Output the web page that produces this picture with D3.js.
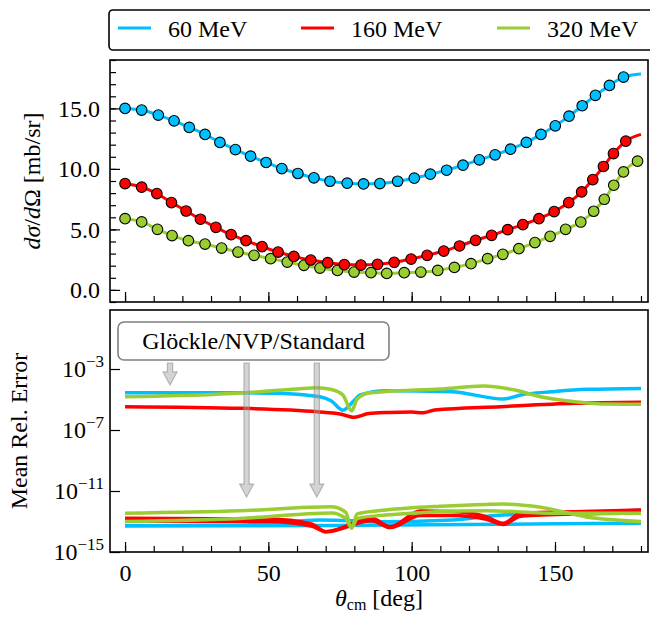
<!DOCTYPE html>
<html>
<head>
<meta charset="utf-8">
<script src="https://cdn.jsdelivr.net/npm/d3@7"></script>
<style>
  body { margin: 0; background: #fff; }
  svg text { font-family: "Liberation Serif", "DejaVu Serif", serif; fill: #000; }
</style>
</head>
<body>
<svg id="chart" width="650" height="618"></svg>
<script>
// ---- data ----
const energies = ["60 MeV", "160 MeV", "320 MeV"];
const colors = ["#00bfff", "#ff0000", "#9acd32"];

// cross sections (top panel); last entry is the curve end at 180 deg (no marker)
const angles60 = [0,5.8,11.6,17.1,22.4,27.9,33.1,38.5,43.8,49.2,54.7,60.3,65.9,71.5,77.5,83.2,88.9,95.1,100.9,106.5,112.2,117.9,123.6,129.1,134.5,140.0,145.1,150.1,154.9,159.5,164.1,169.0,173.9,180];
const sigma60  = [15.0,14.86,14.45,13.97,13.43,12.85,12.19,11.6,11.05,10.53,10.03,9.62,9.26,8.98,8.82,8.76,8.79,8.98,9.23,9.56,9.89,10.31,10.75,11.16,11.63,12.19,12.85,13.56,14.36,15.22,16.08,16.9,17.59,17.85];
const angles160 = [0,5.8,11.1,16.2,21.3,26.3,31.7,37.0,42.2,47.8,53.4,58.9,64.8,70.7,76.5,82.3,88.1,93.9,99.8,105.4,111.2,116.7,122.3,127.9,133.5,138.8,144.4,149.7,154.8,159.3,163.2,166.9,170.4,174.7,180];
const sigma160  = [8.79,8.49,7.96,7.22,6.52,5.84,5.17,4.57,4.07,3.58,3.13,2.77,2.47,2.25,2.09,2.05,2.11,2.28,2.55,2.86,3.21,3.63,4.10,4.51,4.98,5.40,5.89,6.47,7.22,8.10,9.12,10.20,11.27,12.29,12.85];
const angles320 = [0,5.8,11.3,16.4,22.1,27.9,33.7,39.4,45.0,50.8,56.6,62.4,68.0,74.1,79.9,85.8,91.3,97.4,103.2,109.1,114.9,120.7,126.5,131.8,137.4,143.0,148.3,153.7,159.0,163.5,167.2,170.5,173.9,178.8,180];
const sigma320  = [5.89,5.62,5.01,4.49,4.07,3.79,3.46,3.13,2.86,2.58,2.30,2.03,1.80,1.61,1.47,1.42,1.36,1.42,1.47,1.61,1.86,2.17,2.58,2.94,3.41,3.91,4.43,5.01,5.61,6.50,7.49,8.65,9.75,10.64,10.75];

// mean relative errors (bottom panel), log10 of value
const glAngles60 = [0,20,41,55,68,72,76,80,82,91,114,132,138,149,161,180];
const glExp60    = [-4.55,-4.55,-4.56,-4.6,-4.82,-5.1,-5.7,-5.05,-4.7,-4.42,-4.49,-4.97,-4.7,-4.49,-4.33,-4.27];
const glAngles160 = [0,41,67,75,80,85,92,100,104,108,131,157,180];
const glExp160    = [-5.47,-5.58,-5.8,-5.95,-6.17,-5.92,-5.85,-5.82,-5.87,-5.69,-5.47,-5.25,-5.18];
const glAngles320 = [0,41,60,67,72,76,79,81,85,91,110,125,136,145,157,168.5,180];
const glExp320    = [-4.82,-4.57,-4.31,-4.23,-4.34,-4.7,-5.75,-4.97,-4.57,-4.48,-4.31,-4.11,-4.38,-4.82,-5.14,-5.3,-5.31];

const nvpAngles60 = [0,40,68,91,114,132,150,180];
const nvpExp60    = [-13.28,-13.25,-12.9,-13.01,-12.9,-12.57,-12.5,-12.25];
const stdAngles60 = [0,40,80,120,150,180];
const stdExp60    = [-13.28,-13.28,-13.25,-13.2,-13.15,-13.12];
const nvpAngles160 = [0,50,65,70,86,92.5,103,114,126,132,138,160,180];
const nvpExp160    = [-12.79,-12.84,-13.16,-13.67,-12.79,-13.34,-12.31,-12.35,-12.69,-13.12,-12.46,-12.35,-12.25];
const stdAngles160 = [0,50,65,70,86,92.5,103,114,126,132,138,160,180];
const stdExp160    = [-12.97,-13.0,-13.3,-13.67,-12.95,-13.4,-12.6,-12.6,-12.85,-13.2,-12.65,-12.5,-12.45];
const nvpAngles320 = [0,40,72,77,79,81,91,110,126,132,145,161,180];
const nvpExp320    = [-12.46,-12.3,-12.03,-12.4,-13.43,-12.5,-12.25,-12.0,-11.88,-11.86,-12.06,-12.7,-13.0];
const stdAngles320 = [0,40,72,77,79,81,91,126,150,180];
const stdExp320    = [-13.0,-12.8,-12.44,-12.8,-13.43,-12.8,-12.57,-12.29,-12.46,-12.46];

// annotation arrows: target angle and value
const arrowAngles = [15.7, 42.4, 66.9];
const arrowTargets = [9e-5, 4e-12, 4e-12];

const xMajor = [0, 50, 100, 150];
const xMinor = d3.range(0, 181, 10);
const yMajorTop = [0, 5, 10, 15];
const yMinorTop = d3.range(-1, 20, 1);
const yMajorBottom = [1e-15, 1e-11, 1e-7, 1e-3];

// ---- layout ----
const svg = d3.select("#chart");
const left = 110, right = 648;
const top1 = 60, bottom1 = 302;
const top2 = 310, bottom2 = 552;
const fontSize = 24;

const x = d3.scaleLinear().domain([-5.25, 182.45]).range([left, right]);
const yTop = d3.scaleLinear().domain([-1, 19]).range([bottom1, top1]);
const yBot = d3.scaleLog().domain([1e-15, Math.pow(10, 0.87)]).range([bottom2, top2]);

const makeSeries = (a, v) => a.map((d, i) => ({ a: d, v: v[i] }));

// ---- legend ----
svg.append("rect")
  .attr("x", 109).attr("y", 10).attr("width", 545).attr("height", 40)
  .attr("rx", 4)
  .attr("fill", "#fff").attr("stroke", "#000").attr("stroke-width", 1.6);

const legendX = [118, 301, 497];
energies.forEach((e, i) => {
  svg.append("line")
    .attr("x1", legendX[i]).attr("x2", legendX[i] + 33)
    .attr("y1", 28).attr("y2", 28)
    .attr("stroke", colors[i]).attr("stroke-width", 3);
  svg.append("text")
    .attr("x", legendX[i] + 50).attr("y", 37)
    .attr("font-size", fontSize)
    .text(e);
});

// ---- top panel ----
const topG = svg.append("g");

const line = d3.line()
  .x(d => x(d.a))
  .y(d => yTop(d.v))
  .curve(d3.curveMonotoneX);

const topSeries = [
  makeSeries(angles60, sigma60),
  makeSeries(angles160, sigma160),
  makeSeries(angles320, sigma320)
];

topSeries.forEach((s, i) => {
  topG.append("path")
    .datum(s)
    .attr("d", line)
    .attr("fill", "none")
    .attr("stroke", colors[i])
    .attr("stroke-width", 3);
});
// markers drawn after all lines so that they sit on top
[2, 1, 0].forEach(i => {
  topG.selectAll(".m" + i)
    .data(topSeries[i].filter(d => d.a < 179.5))
    .join("circle")
    .attr("class", "m" + i)
    .attr("cx", d => x(d.a))
    .attr("cy", d => yTop(d.v))
    .attr("r", 5.3)
    .attr("fill", colors[i])
    .attr("stroke", "#000")
    .attr("stroke-width", 1.1);
});

// top axes
const axTop = svg.append("g");
axTop.append("g")
  .attr("transform", `translate(${left},0)`)
  .call(d3.axisLeft(yTop).tickValues(yMinorTop).tickSize(-6).tickFormat(""));
axTop.append("g")
  .attr("transform", `translate(${left},0)`)
  .call(d3.axisLeft(yTop).tickValues(yMajorTop).tickSize(-10).tickPadding(10).tickFormat(d3.format(".1f")));
axTop.append("g")
  .attr("transform", `translate(0,${bottom1})`)
  .call(d3.axisBottom(x).tickValues(xMinor).tickSize(-6).tickFormat(""));
axTop.append("g")
  .attr("transform", `translate(0,${bottom1})`)
  .call(d3.axisBottom(x).tickValues(xMajor).tickSize(-10).tickFormat(""));
svg.append("rect")
  .attr("x", left).attr("y", top1).attr("width", right - left).attr("height", bottom1 - top1)
  .attr("fill", "none").attr("stroke", "#000").attr("stroke-width", 1.6);

// ---- bottom panel ----
const botG = svg.append("g");
const logLine = d3.line()
  .x(d => x(d.a))
  .y(d => yBot(Math.pow(10, d.v)))
  .curve(d3.curveMonotoneX);

const botSeries = [
  [makeSeries(stdAngles60, stdExp60), 0],
  [makeSeries(nvpAngles60, nvpExp60), 0],
  [makeSeries(stdAngles160, stdExp160), 1],
  [makeSeries(nvpAngles160, nvpExp160), 1],
  [makeSeries(stdAngles320, stdExp320), 2],
  [makeSeries(nvpAngles320, nvpExp320), 2],
  [makeSeries(glAngles160, glExp160), 1],
  [makeSeries(glAngles60, glExp60), 0],
  [makeSeries(glAngles320, glExp320), 2]
];
botSeries.forEach(([s, c]) => {
  botG.append("path")
    .datum(s)
    .attr("d", logLine)
    .attr("fill", "none")
    .attr("stroke", colors[c])
    .attr("stroke-width", 3.5)
    .attr("stroke-linejoin", "round");
});

// annotation box
const boxX = left + 8, boxY = top2 + 12, boxW = 271, boxH = 38;
svg.append("rect")
  .attr("x", boxX).attr("y", boxY).attr("width", boxW).attr("height", boxH)
  .attr("rx", 6)
  .attr("fill", "#fff").attr("stroke", "#808080").attr("stroke-width", 1.6);
svg.append("text")
  .attr("x", boxX + boxW / 2).attr("y", boxY + 27)
  .attr("text-anchor", "middle")
  .attr("font-size", fontSize)
  .text("Glöckle/NVP/Standard");

// arrows
const arrowPath = (cx, y0, y1) => {
  const sw = 2.6, hw = 7, hl = 13;
  const yh = y1 - hl;
  return `M${cx - sw},${y0} L${cx + sw},${y0} L${cx + sw},${yh} L${cx + hw},${yh} L${cx},${y1} L${cx - hw},${yh} L${cx - sw},${yh} Z`;
};
arrowAngles.forEach((a, i) => {
  svg.append("path")
    .attr("d", arrowPath(x(a), boxY + boxH + 3, yBot(arrowTargets[i])))
    .attr("fill", "#a0a0a0").attr("fill-opacity", 0.45)
    .attr("stroke", "#909090").attr("stroke-opacity", 0.6).attr("stroke-width", 1.2);
});

// bottom axes
const supFormat = sel => {
  sel.selectAll(".tick text").each(function(d) {
    const t = d3.select(this).text("");
    const e = Math.round(Math.log10(d));
    t.append("tspan").text("10");
    t.append("tspan").attr("dy", -10).attr("font-size", 17).text("\u2212" + Math.abs(e));
  });
};
svg.append("g")
  .attr("transform", `translate(${left},0)`)
  .call(d3.axisLeft(yBot).tickValues(yMajorBottom).tickSize(-10).tickPadding(6))
  .call(supFormat);
svg.append("g")
  .attr("transform", `translate(0,${bottom2})`)
  .call(d3.axisBottom(x).tickValues(xMinor).tickSize(-6).tickFormat(""));
svg.append("g")
  .attr("transform", `translate(0,${bottom2})`)
  .call(d3.axisBottom(x).tickValues(xMajor).tickSize(-10).tickPadding(12));
svg.append("rect")
  .attr("x", left).attr("y", top2).attr("width", right - left).attr("height", bottom2 - top2)
  .attr("fill", "none").attr("stroke", "#000").attr("stroke-width", 1.6);

// axis styling
svg.selectAll(".domain").remove();
svg.selectAll(".tick line").attr("stroke", "#000").attr("stroke-width", 1.2);
svg.selectAll(".tick text")
  .attr("font-family", "Liberation Serif, serif")
  .attr("font-size", fontSize)
  .attr("fill", "#000");

// axis labels
const yl1 = svg.append("text")
  .attr("transform", `translate(40,${(top1 + bottom1) / 2}) rotate(-90)`)
  .attr("text-anchor", "middle")
  .attr("font-size", fontSize);
yl1.append("tspan").attr("font-style", "italic").text("dσ");
yl1.append("tspan").text("/");
yl1.append("tspan").attr("font-style", "italic").text("d");
yl1.append("tspan").text("Ω [mb/sr]");

svg.append("text")
  .attr("transform", `translate(27,${(top2 + bottom2) / 2}) rotate(-90)`)
  .attr("text-anchor", "middle")
  .attr("font-size", fontSize)
  .text("Mean Rel. Error");

const xl = svg.append("text")
  .attr("x", (left + right) / 2).attr("y", 606)
  .attr("text-anchor", "middle")
  .attr("font-size", fontSize);
xl.append("tspan").attr("font-style", "italic").text("θ");
xl.append("tspan").attr("font-size", 16).attr("dy", 4).text("cm");
xl.append("tspan").attr("dy", -4).text(" [deg]");
</script>
</body>
</html>
